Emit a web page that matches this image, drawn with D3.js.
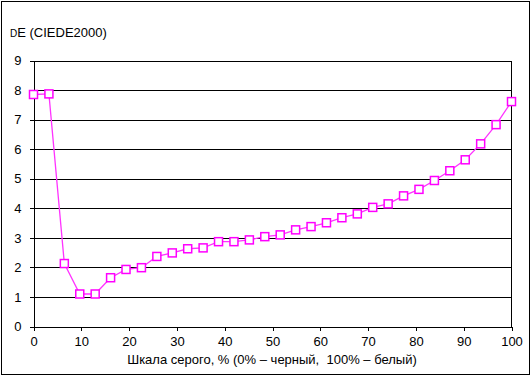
<!DOCTYPE html>
<meta charset="utf-8">
<style>

body {
  margin: 0;
  background: #fff;
}

text {
  font-family: "Liberation Sans", Arial, sans-serif;
  font-size: 13px;
  fill: #000;
}

.grid line {
  stroke: #000;
  stroke-width: 1;
  shape-rendering: crispEdges;
}

.axis path,
.axis line {
  stroke: #000;
  shape-rendering: crispEdges;
}

.series {
  fill: none;
  stroke: #ff33ff;
  stroke-width: 1.3;
}

.marker {
  fill: #fff;
  stroke: #ff00ff;
  stroke-width: 1.5;
}

</style>
<svg width="531" height="377"></svg>
<script src="https://cdn.jsdelivr.net/npm/d3@7/dist/d3.min.js"></script>
<script>

// grey scale, % (32 steps from 0 to 100)
var grey = d3.range(32).map(function(i) { return i * 100 / 31; });

// dE (CIEDE2000)
var dE = [7.85, 7.87, 2.13, 1.10, 1.10, 1.65, 1.93, 1.99,
          2.37, 2.49, 2.63, 2.66, 2.87, 2.87, 2.93, 3.04,
          3.10, 3.27, 3.38, 3.51, 3.68, 3.81, 4.03, 4.15,
          4.42, 4.64, 4.94, 5.27, 5.64, 6.18, 6.83, 7.61];

var xTicks = [0, 10, 20, 30, 40, 50, 60, 70, 80, 90, 100];
var yTicks = [0, 1, 2, 3, 4, 5, 6, 7, 8, 9];

var svg = d3.select("svg");

svg.append("rect")
    .attr("x", 1.5)
    .attr("y", 1.5)
    .attr("width", 528)
    .attr("height", 373)
    .attr("fill", "#fff")
    .attr("stroke", "#000");

var x = d3.scaleLinear().domain([0, 100]).range([33.5, 511.5]),
    y = d3.scaleLinear().domain([0, 9]).range([326.5, 60.5]);

svg.append("g")
    .attr("class", "grid")
  .selectAll("line")
    .data(yTicks.slice(1))
  .enter().append("line")
    .attr("x1", x(0))
    .attr("x2", x(100))
    .attr("y1", function(d) { return Math.round(y(d)) + 0.5; })
    .attr("y2", function(d) { return Math.round(y(d)) + 0.5; });

svg.append("line")
    .attr("x1", x(100)).attr("x2", x(100))
    .attr("y1", y(9)).attr("y2", y(0))
    .attr("stroke", "#000")
    .attr("shape-rendering", "crispEdges");

svg.append("g")
    .attr("class", "axis")
    .attr("transform", "translate(0," + y(0) + ")")
    .call(d3.axisBottom(x).tickValues(xTicks).tickSize(4).tickPadding(6).tickSizeOuter(0))
    .call(function(g) { g.selectAll("text").attr("font-size", 13).attr("font-family", null); });

svg.append("g")
    .attr("class", "axis")
    .attr("transform", "translate(" + x(0) + ",0)")
    .call(d3.axisLeft(y).tickValues(yTicks).tickSize(4).tickPadding(8).tickSizeOuter(0))
    .call(function(g) { g.selectAll("text").attr("font-size", 13).attr("font-family", null); });

var line = d3.line()
    .x(function(d, i) { return x(grey[i]); })
    .y(function(d) { return y(d); });

svg.append("path")
    .datum(dE)
    .attr("class", "series")
    .attr("d", line);

svg.append("g")
  .selectAll("rect")
    .data(dE)
  .enter().append("rect")
    .attr("class", "marker")
    .attr("x", function(d, i) { return x(grey[i]) - 4; })
    .attr("y", function(d) { return y(d) - 4; })
    .attr("width", 8)
    .attr("height", 8);

var title = svg.append("text")
    .attr("x", 10)
    .attr("y", 37);
title.append("tspan").attr("font-size", 10).text("D");
title.append("tspan").text("E (CIEDE2000)");

svg.append("text")
    .attr("x", 272)
    .attr("y", 364)
    .attr("text-anchor", "middle")
    .text("Шкала серого, % (0% – черный,  100% – белый)")
    .style("white-space", "pre");

</script>
